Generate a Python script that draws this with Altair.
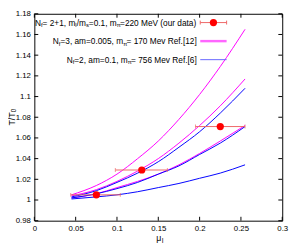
import altair as alt
import pandas as pd

# ---------------- data ----------------
mu = [0.045, 0.075, 0.1, 0.125, 0.15, 0.175, 0.2, 0.225, 0.255]
mag_upper = [1.005, 1.014, 1.025, 1.040, 1.057, 1.078, 1.102, 1.129, 1.165]
mag_lower = [1.004, 1.010, 1.018, 1.028, 1.040, 1.055, 1.072, 1.091, 1.117]
mag_mid = [1.002, 1.006, 1.012, 1.018, 1.025, 1.034, 1.045, 1.057, 1.072]
blue_upper = [1.003, 1.009, 1.017, 1.026, 1.037, 1.051, 1.066, 1.084, 1.108]
blue_mid = [1.002, 1.006, 1.011, 1.017, 1.025, 1.033, 1.044, 1.055, 1.071]
blue_lower = [1.001, 1.003, 1.005, 1.008, 1.012, 1.016, 1.021, 1.026, 1.034]

pt_mu = [0.075, 0.13, 0.225]
pt_T = [1.005, 1.029, 1.071]
pt_lo = [0.044, 0.098, 0.195]
pt_hi = [0.104, 0.161, 0.255]

x_ticks = [0, 0.05, 0.1, 0.15, 0.2, 0.25, 0.3]
y_ticks = [0.98, 1.0, 1.02, 1.04, 1.06, 1.08, 1.1, 1.12, 1.14, 1.16, 1.18]

legend_rows = [
    [("N", 0), ("f", 1), ("= 2+1, m", 0), ("l", 1), ("/m", 0), ("s", 1),
     ("=0.1, m", 0), ("π", 1), ("=220 MeV (our data)", 0)],
    [("N", 0), ("f", 1), ("=3, am=0.005, m", 0), ("π", 1), ("= 170 Mev Ref.[12]", 0)],
    [("N", 0), ("f", 1), ("=2, am=0.1, m", 0), ("π", 1), ("= 756 Mev Ref.[6]", 0)],
]

# ---------------- layout ----------------
W, H = 254, 212
FONT = "Liberation Sans"
MAG = "#ff00ff"
BLUE = "#0000ff"
ERR = "#ee6666"

xs = alt.Scale(domain=[0, 0.3], nice=False, zero=False)
ys = alt.Scale(domain=[0.98, 1.18], nice=False, zero=False)

x_axis = alt.Axis(values=x_ticks, labelExpr="format(datum.value, '.2~f')", ticks=False,
                  domain=False, grid=False, labelFontSize=8, labelFont=FONT, labelColor="#000",
                  labelPadding=4, title=None, labelOverlap=False, labelFlush=False)
y_axis = alt.Axis(values=y_ticks, labelExpr="format(datum.value, '.2~f')", ticks=False,
                  domain=False, grid=False, labelFontSize=8, labelFont=FONT, labelColor="#000",
                  labelPadding=4, title=None, labelOverlap=False, labelFlush=False)


def X(f):
    return alt.X(f, scale=xs, axis=x_axis)


def Y(f):
    return alt.Y(f, scale=ys, axis=y_axis)


def curve_df(names, series):
    rows = []
    for n, s in zip(names, series):
        for m, t in zip(mu, s):
            rows.append({"series": n, "mu": m, "T": t})
    return pd.DataFrame(rows)


mag_df = curve_df(["m_up", "m_lo", "m_mid"], [mag_upper, mag_lower, mag_mid])
blue_df = curve_df(["b_up", "b_mid", "b_lo"], [blue_upper, blue_mid, blue_lower])

mag_lines = alt.Chart(mag_df).mark_line(color=MAG, strokeWidth=1, interpolate="monotone").encode(
    x=X("mu:Q"), y=Y("T:Q"), detail="series:N")
blue_lines = alt.Chart(blue_df).mark_line(color=BLUE, strokeWidth=1, interpolate="monotone").encode(
    x=X("mu:Q"), y=Y("T:Q"), detail="series:N")

pts = pd.DataFrame({"mu": pt_mu, "T": pt_T, "lo": pt_lo, "hi": pt_hi})
err = alt.Chart(pts).mark_rule(color=ERR, strokeWidth=1).encode(x=X("lo:Q"), x2="hi:Q", y=Y("T:Q"))
cap_lo = alt.Chart(pts).mark_tick(color=ERR, orient="vertical", size=4, thickness=1).encode(
    x=X("lo:Q"), y=Y("T:Q"))
cap_hi = alt.Chart(pts).mark_tick(color=ERR, orient="vertical", size=4, thickness=1).encode(
    x=X("hi:Q"), y=Y("T:Q"))
dots = alt.Chart(pts).mark_circle(color="#ff0000", size=55, opacity=1).encode(x=X("mu:Q"), y=Y("T:Q"))

# inward ticks on all four sides
xt = pd.DataFrame({"v": x_ticks})
yt = pd.DataFrame({"v": y_ticks})
TL = 4
tick_b = alt.Chart(xt).mark_rule(color="black", strokeWidth=1).encode(
    x=X("v:Q"), y=alt.value(H), y2=alt.value(H - TL))
tick_t = alt.Chart(xt).mark_rule(color="black", strokeWidth=1).encode(
    x=X("v:Q"), y=alt.value(0), y2=alt.value(TL))
tick_l = alt.Chart(yt).mark_rule(color="black", strokeWidth=1).encode(
    y=Y("v:Q"), x=alt.value(0), x2=alt.value(TL))
tick_r = alt.Chart(yt).mark_rule(color="black", strokeWidth=1).encode(
    y=Y("v:Q"), x=alt.value(W), x2=alt.value(W - TL))

one = pd.DataFrame({"a": [0]})

# ---------------- legend ----------------
AW = {'N': 722, 'f': 278, '=': 584, ' ': 278, '2': 556, '+': 584, '1': 556, ',': 278, 'm': 833,
      'l': 222, '/': 278, 's': 500, '0': 556, '.': 278, 'π': 570, 'M': 833, 'e': 556, 'V': 667,
      '(': 333, 'o': 556, 'u': 556, 'r': 333, 'd': 556, 'a': 556, 't': 278, ')': 333, '3': 556,
      '5': 556, '7': 556, '6': 556, 'v': 500, 'R': 667, '[': 278, ']': 278, 'T': 611}


def tw(s, size):
    return sum(AW.get(c, 556) for c in s) * size / 1000.0


MAIN, SUB = 8.5, 6
legend_layers = []
row_y = [9, 28, 47]
RIGHT = 166
for parts, yy in zip(legend_rows, row_y):
    total = sum(tw(t, SUB if s else MAIN) for t, s in parts)
    xx = RIGHT - total
    for t, s in parts:
        size = SUB if s else MAIN
        legend_layers.append(
            alt.Chart(one).mark_text(text=t, font=FONT, fontSize=size, align="left",
                                     baseline="middle", color="#000").encode(
                x=alt.value(xx), y=alt.value(yy + (2.5 if s else 0))))
        xx += tw(t, size)

# legend samples
LX1, LX2 = 170, 197
legend_layers += [
    alt.Chart(one).mark_rule(color=ERR, strokeWidth=1).encode(
        x=alt.value(LX1), x2=alt.value(LX2), y=alt.value(row_y[0])),
    alt.Chart(one).mark_rule(color=ERR, strokeWidth=1).encode(
        x=alt.value(LX1), y=alt.value(row_y[0] - 2), y2=alt.value(row_y[0] + 2)),
    alt.Chart(one).mark_rule(color=ERR, strokeWidth=1).encode(
        x=alt.value(LX2), y=alt.value(row_y[0] - 2), y2=alt.value(row_y[0] + 2)),
    alt.Chart(one).mark_circle(color="#ff0000", size=55, opacity=1).encode(
        x=alt.value((LX1 + LX2) / 2), y=alt.value(row_y[0])),
    alt.Chart(one).mark_rule(color="#ff66ff", strokeWidth=2.5).encode(
        x=alt.value(LX1), x2=alt.value(LX2), y=alt.value(row_y[1])),
    alt.Chart(one).mark_rule(color="#6666ff", strokeWidth=1).encode(
        x=alt.value(LX1), x2=alt.value(LX2), y=alt.value(row_y[2])),
]

# axis titles
title_layers = [
    alt.Chart(one).mark_text(text="T/T", font=FONT, fontSize=9, angle=270, align="left",
                             baseline="middle", color="#000").encode(
        x=alt.value(-23), y=alt.value(H / 2 + 8.5)),
    alt.Chart(one).mark_text(text="0", font=FONT, fontSize=6.5, angle=270, align="left",
                             baseline="middle", color="#000").encode(
        x=alt.value(-20.5), y=alt.value(H / 2 + 8.5 - tw("T/T", 9))),
    alt.Chart(one).mark_text(text="μ", font=FONT, fontSize=9, align="left",
                             baseline="middle", color="#000").encode(
        x=alt.value(125), y=alt.value(H + 18)),
    alt.Chart(one).mark_text(text="I", font=FONT, fontSize=6.5, align="left",
                             baseline="middle", color="#000").encode(
        x=alt.value(130.5), y=alt.value(H + 20.5)),
]

chart = alt.layer(
    mag_lines, blue_lines, err, cap_lo, cap_hi, dots,
    tick_b, tick_t, tick_l, tick_r,
    *legend_layers, *title_layers
).properties(
    width=W, height=H,
    autosize=alt.AutoSizeParams(type="none"),
    padding={"left": 27, "top": 3, "right": 10, "bottom": 23},
).configure_view(stroke="black", strokeWidth=1)

chart.save("out.html", embed_options={"renderer": "svg", "actions": False})
